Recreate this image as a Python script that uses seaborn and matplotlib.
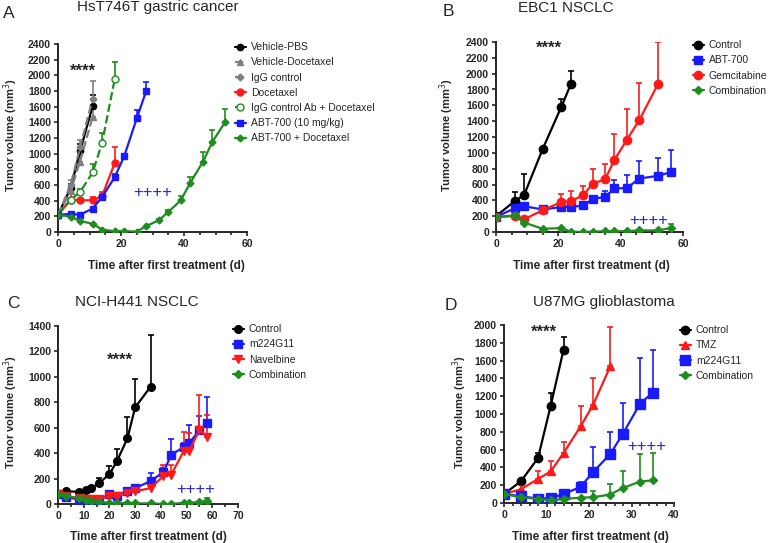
import numpy as np
import matplotlib
matplotlib.use('Agg')
import matplotlib.pyplot as plt
import seaborn as sns
from matplotlib.ticker import MultipleLocator

sns.set_style('ticks')
plt.rcParams['font.family'] = ['Liberation Sans', 'DejaVu Sans']

# ---- Panel A: HsT746T gastric cancer
a_days_ctrl = [0, 4, 7, 11]
a_vehicle_pbs = [220, 560, 1030, 1610]
a_vehicle_pbs_err = [0, 50, 90, 140]
a_vehicle_doce = [220, 520, 900, 1470]
a_vehicle_doce_err = [0, 40, 80, 100]
a_igg = [220, 600, 1080, 1700]
a_igg_err = [0, 60, 100, 230]
a_days_doce = [0, 4, 7, 11, 14, 18]
a_docetaxel = [220, 410, 405, 405, 460, 880]
a_docetaxel_err = [0, 70, 0, 45, 50, 200]
a_igg_doce = [220, 410, 510, 760, 1140, 1950]
a_igg_doce_err = [0, 30, 40, 110, 130, 220]
a_days_abt = [0, 4, 7, 11, 14, 18, 21, 25, 28]
a_abt = [220, 230, 220, 300, 445, 700, 965, 1450, 1800]
a_abt_err = [0, 0, 0, 0, 20, 40, 30, 105, 115]
a_days_combo = [0, 4, 7, 11, 14, 18, 21, 25, 28, 32, 35, 39, 42, 46, 49, 53]
a_combo = [220, 195, 140, 105, 30, 10, 12, 5, 75, 150, 255, 405, 630, 895, 1150, 1400]
a_combo_err = [0, 0, 0, 0, 0, 0, 0, 0, 0, 15, 30, 60, 70, 130, 150, 170]

# ---- Panel B: EBC1 NSCLC
b_days_ctrl = [0, 6, 9, 15, 21, 24]
b_control = [200, 390, 465, 1050, 1585, 1865]
b_control_err = [0, 120, 265, 0, 95, 170]
b_days = [0, 6, 9, 15, 21, 24, 28, 31, 35, 38, 42, 46, 52, 56]
b_abt = [190, 300, 325, 285, 315, 315, 335, 415, 445, 550, 555, 675, 710, 755]
b_abt_err = [0, 0, 0, 0, 0, 0, 0, 0, 70, 105, 165, 225, 230, 280]
b_days_gem = [0, 6, 9, 15, 21, 24, 28, 31, 35, 38, 42, 46, 52]
b_gem = [190, 200, 160, 275, 380, 390, 465, 610, 665, 910, 1165, 1415, 1870]
b_gem_err = [0, 0, 0, 0, 105, 125, 120, 190, 200, 325, 390, 470, 525]
b_combo = [190, 210, 120, 40, 50, 5, 0, 5, 10, 10, 10, 20, 20, 50]
b_combo_err = [0, 0, 0, 0, 0, 0, 0, 0, 0, 0, 0, 0, 0, 50]

# ---- Panel C: NCI-H441 NSCLC
c_days_ctrl = [0, 3, 8, 11, 13, 16, 20, 23, 27, 30, 36]
c_control = [78, 99, 97, 110, 125, 164, 235, 340, 517, 760, 922]
c_control_err = [0, 0, 0, 0, 0, 40, 65, 90, 170, 224, 410]
c_days = [0, 3, 8, 11, 13, 16, 20, 23, 27, 30, 36, 41, 44, 49, 51, 55, 58]
c_m224 = [75, 55, 35, 30, 30, 35, 75, 65, 100, 125, 180, 250, 385, 450, 480, 580, 635]
c_m224_err = [0, 0, 0, 0, 0, 0, 15, 15, 20, 20, 60, 30, 125, 30, 145, 115, 205]
c_navel = [75, 60, 45, 40, 40, 40, 60, 60, 90, 100, 125, 220, 230, 420, 415, 585, 530]
c_navel_err = [0, 0, 0, 0, 0, 0, 15, 15, 20, 30, 35, 85, 80, 150, 140, 275, 170]
c_combo = [75, 65, 45, 30, 20, 15, 10, 10, 5, 5, 5, 0, 0, 10, 10, 15, 25]
c_combo_err = [0] * 16 + [25]

# ---- Panel D: U87MG glioblastoma
d_days_ctrl = [0, 4, 8, 11, 14]
d_control = [100, 245, 505, 1095, 1720]
d_control_err = [0, 0, 60, 140, 150]
d_days_tmz = [0, 4, 8, 11, 14, 18, 21, 25]
d_tmz = [100, 155, 270, 355, 560, 860, 1105, 1535]
d_tmz_err = [0, 0, 85, 120, 120, 225, 305, 440]
d_days = [0, 4, 8, 11, 14, 18, 21, 25, 28, 32, 35]
d_m224 = [100, 75, 50, 55, 100, 180, 350, 550, 780, 1115, 1240]
d_m224_err = [0, 0, 0, 0, 0, 60, 280, 245, 345, 510, 480]
d_combo = [100, 65, 45, 30, 45, 60, 65, 95, 170, 240, 255]
d_combo_err = [0, 0, 0, 0, 0, 0, 65, 120, 185, 310, 305]

BLACK, GRAY, RED, GREEN, BLUE = 'black', '#7f7f7f', '#ff1a1a', '#1e8c1e', '#1a1aff'


def series(ax, x, y, err, label, color, marker, ms=5, ls='-', mfc=None):
    x = np.array(x); y = np.array(y); err = np.array(err)
    m = err > 0
    ax.errorbar(x[m], y[m], yerr=[np.zeros(m.sum()), err[m]], fmt='none',
                ecolor=color, elinewidth=1.2, capsize=2.5, capthick=1.2, zorder=2)
    sns.lineplot(x=x, y=y, ax=ax, color=color, marker=marker, markersize=ms,
                 linestyle=ls, linewidth=1.6, label=label, markeredgecolor=color,
                 markerfacecolor=mfc if mfc else color, markeredgewidth=1, zorder=3)


fig = plt.figure(figsize=(7.77, 5.43), dpi=100)
W, H = 777, 543


def make_ax(l, r, t, b):
    return fig.add_axes([l / W, 1 - b / H, (r - l) / W, (b - t) / H])


axA = make_ax(58, 247, 44, 232)
axB = make_ax(496, 683, 42, 232)
axC = make_ax(58, 238, 326, 504)
axD = make_ax(504, 674, 325, 503)

series(axA, a_days_ctrl, a_vehicle_pbs, a_vehicle_pbs_err, 'Vehicle-PBS', BLACK, 'o', 4.5)
series(axA, a_days_ctrl, a_vehicle_doce, a_vehicle_doce_err, 'Vehicle-Docetaxel', GRAY, '^', 4.5, '--')
series(axA, a_days_ctrl, a_igg, a_igg_err, 'IgG control', GRAY, 'D', 3.5, '--')
series(axA, a_days_doce, a_docetaxel, a_docetaxel_err, 'Docetaxel', RED, 'o', 5)
series(axA, a_days_doce, a_igg_doce, a_igg_doce_err, 'IgG control Ab + Docetaxel', GREEN, 'o', 5, '--', 'white')
series(axA, a_days_abt, a_abt, a_abt_err, 'ABT-700 (10 mg/kg)', BLUE, 's', 5)
series(axA, a_days_combo, a_combo, a_combo_err, 'ABT-700 + Docetaxel', GREEN, 'D', 3.5)

series(axB, b_days_ctrl, b_control, b_control_err, 'Control', BLACK, 'o', 6)
series(axB, b_days, b_abt, b_abt_err, 'ABT-700', BLUE, 's', 6)
series(axB, b_days_gem, b_gem, b_gem_err, 'Gemcitabine', RED, 'o', 6)
series(axB, b_days, b_combo, b_combo_err, 'Combination', GREEN, 'D', 4)

series(axC, c_days_ctrl, c_control, c_control_err, 'Control', BLACK, 'o', 5.5)
series(axC, c_days, c_m224, c_m224_err, 'm224G11', BLUE, 's', 5.5)
series(axC, c_days, c_navel, c_navel_err, 'Navelbine', RED, 'v', 5.5)
series(axC, c_days, c_combo, c_combo_err, 'Combination', GREEN, 'D', 4)

series(axD, d_days_ctrl, d_control, d_control_err, 'Control', BLACK, 'o', 6)
series(axD, d_days_tmz, d_tmz, d_tmz_err, 'TMZ', RED, '^', 6)
series(axD, d_days, d_m224, d_m224_err, 'm224G11', BLUE, 's', 6.5)
series(axD, d_days, d_combo, d_combo_err, 'Combination', GREEN, 'D', 4.5)

limits = [(axA, 60, 20, 5, 2400, 200), (axB, 60, 20, 5, 2400, 200),
          (axC, 70, 10, 5, 1400, 200), (axD, 40, 10, 2, 2000, 200)]
for ax, xmax, xmaj, xmin, ymax, ymaj in limits:
    ax.set_xlim(0, xmax)
    ax.set_ylim(0, ymax)
    ax.xaxis.set_major_locator(MultipleLocator(xmaj))
    ax.xaxis.set_minor_locator(MultipleLocator(xmin))
    ax.yaxis.set_major_locator(MultipleLocator(ymaj))
    ax.tick_params(axis='both', which='major', labelsize=7.5, length=3, width=1.2, pad=2)
    ax.tick_params(axis='x', which='minor', length=2, width=1.2)
    for lab in ax.get_xticklabels() + ax.get_yticklabels():
        lab.set_fontweight('bold')
    for s in ['left', 'bottom']:
        ax.spines[s].set_linewidth(1.4)
    sns.despine(ax=ax)
    ax.set_xlabel('')
    ax.set_ylabel('')

# legends
leg_pos = [(axA, 231, 38, 7.5), (axB, 689, 36, 7.5), (axC, 229, 320, 7.5), (axD, 676, 321, 7.5)]
for ax, lx, ly, fs in leg_pos:
    ax.legend(loc='upper left', bbox_to_anchor=(lx / W, 1 - ly / H),
              bbox_transform=fig.transFigure, frameon=False, fontsize=fs,
              handlelength=1.0, handletextpad=0.5, labelspacing=0.5, borderaxespad=0)

# stars and crosses
axA.text(8, 2050, '****', fontsize=12, ha='center', va='center', fontweight='bold')
axA.text(30, 510, '++++', fontsize=12, ha='center', va='center', color='#2b2bb5')
axB.text(17, 2320, '****', fontsize=12, ha='center', va='center', fontweight='bold')
axB.text(49, 150, '++++', fontsize=12, ha='center', va='center', color='#2b2bb5')
axC.text(24, 1130, '****', fontsize=12, ha='center', va='center', fontweight='bold')
axC.text(53.5, 115, '++++', fontsize=12, ha='center', va='center', color='#2b2bb5')
axD.text(9.4, 1920, '****', fontsize=12, ha='center', va='center', fontweight='bold')
axD.text(33.5, 640, '++++', fontsize=12, ha='center', va='center', color='#2b2bb5')

# titles, panel letters, axis labels
def ftext(x, y, s, **kw):
    fig.text(x / W, 1 - y / H, s, ha=kw.pop('ha', 'center'), va=kw.pop('va', 'center'), **kw)

ftext(3, 14, 'A', fontsize=12.5, ha='left')
ftext(158, 7, 'HsT746T gastric cancer', fontsize=11)
ftext(443, 11, 'B', fontsize=12.5, ha='left')
ftext(566, 8, 'EBC1 NSCLC', fontsize=11)
ftext(7, 303, 'C', fontsize=12.5, ha='left')
ftext(137, 302, 'NCI-H441 NSCLC', fontsize=11)
ftext(445, 305, 'D', fontsize=12.5, ha='left')
ftext(604, 302, 'U87MG glioblastoma', fontsize=11)

xl = 'Time after first treatment (d)'
yl = 'Tumor volume (mm$^{3}$)'
for x, y in [(166, 266), (591, 266), (148, 537), (590, 537)]:
    ftext(x, y, xl, fontsize=8.5, fontweight='bold')
for x, y in [(11, 135), (447, 135), (11, 412), (460, 412)]:
    ftext(x, y, yl, fontsize=8, fontweight='bold', rotation=90)

fig.savefig('out.png', dpi=100)
